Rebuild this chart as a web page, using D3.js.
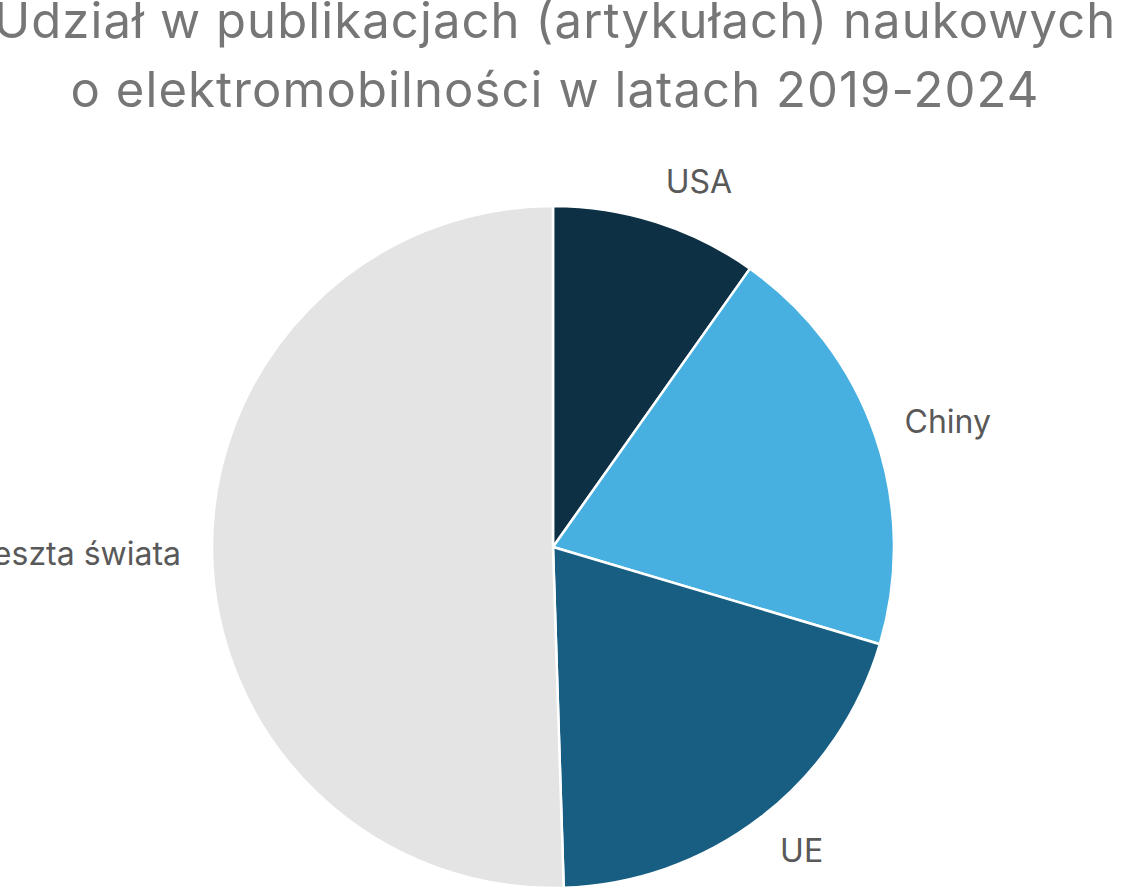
<!DOCTYPE html>
<html>
<head>
<meta charset="utf-8">
<script src="https://cdn.jsdelivr.net/npm/d3@7"></script>
<style>
  body { margin: 0; background: #fff; overflow: hidden; }
  text { font-family: Inter, "Liberation Sans", Arial, sans-serif; }
</style>
</head>
<body>
<div id="chart"></div>
<script>
var w = 1140
var h = 896

// share of publications, %
var countries = ["USA", "Chiny", "UE", "Reszta świata"]
var shares = [9.8, 19.8, 19.9, 50.5]
var colors = ["#0d3045", "#47b0e0", "#175e82", "#e4e4e4"]
var titleLines = ["Udział w publikacjach (artykułach) naukowych", "o elektromobilności w latach 2019-2024"]

var cx = 553, cy = 547, r = 341

var svg = d3.select("#chart").append("svg").attr("width", w).attr("height", h)

svg.selectAll(".title")
    .data(titleLines)
    .enter()
    .append("text")
    .attr("class", "title")
    .attr("x", 555)
    .attr("y", function(d, i){ return 38 + i*69 })
    .attr("text-anchor", "middle")
    .attr("fill", "#767676")
    .attr("font-size", 49)
    .attr("letter-spacing", 1.1)
    .text(function(d){ return d })

var data = countries.map(function(c, i){ return {name: c, value: shares[i], color: colors[i]} })

var pie = d3.pie().sort(null).value(function(d){ return d.value })
var arc = d3.arc().innerRadius(0).outerRadius(r)
var arcs = pie(data)

var g = svg.append("g").attr("transform", "translate(" + cx + "," + cy + ")")

g.selectAll("path")
    .data(arcs)
    .enter()
    .append("path")
    .attr("d", arc)
    .attr("fill", function(d){ return d.data.color })
    .attr("stroke", "#fff")
    .attr("stroke-width", 2.5)

// outside-end labels: box pushed away from the rim
var labelR = r + 31
g.selectAll(".lbl")
    .data(arcs)
    .enter()
    .append("text")
    .attr("class", "lbl")
    .attr("text-anchor", "middle")
    .attr("fill", "#595959")
    .attr("font-size", 32)
    .text(function(d){ return d.data.name })
    .each(function(d){
        var a = (d.startAngle + d.endAngle)/2
        var bb = this.getBBox()
        var s = Math.sin(a), c = Math.cos(a)
        var x = labelR*s + (s > 0 ? 1 : -1)*bb.width/2
        var y = -labelR*c - c*bb.height*0.3
        d3.select(this).attr("x", x).attr("y", y).attr("dy", "0.36em")
    })
</script>
</body>
</html>
